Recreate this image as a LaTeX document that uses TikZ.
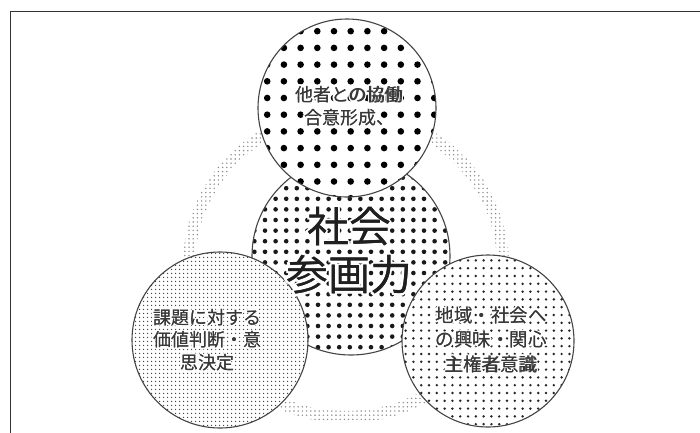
\documentclass[tikz,border=0pt]{standalone}
\usepackage{fontspec}
\setmainfont{Noto Sans CJK JP}
\usetikzlibrary{patterns.meta}
\definecolor{framecol}{HTML}{333333}
\definecolor{edgecol}{HTML}{444444}
\definecolor{txtcol}{HTML}{383838}
\definecolor{ringcol}{HTML}{8A8A8A}
\newcommand\smallsz{\fontsize{18}{22.5}\selectfont}
\newcommand\rightsz{\fontsize{18.5}{24.5}\selectfont}
\newcommand\bigsz{\fontsize{42}{48}\selectfont}
\newcommand\txtT{他者との協働\\合意形成、}
\newcommand\txtC{社会\\参画力}
\newcommand\txtL{課題に対する\\価値判断・意\\思決定}
\newcommand\txtR{地域・社会へ\\の興味・関心\\主権者意識}
\tikzset{
  circedge/.style={draw=edgecol, line width=1.1pt},
  txt/.style={text=txtcol, align=center, inner sep=0pt},
  halo/.style={text=white, align=center, inner sep=0pt},
}
\begin{document}
\begin{tikzpicture}[x=1pt,y=-1pt]
\useasboundingbox (0,0) rectangle (700,432);
\fill[white] (0,0) rectangle (700,432);
% frame (open to the right and bottom)
\coordinate (frTR) at (702,11.5);
\coordinate (frTL) at (10.5,11.5);
\coordinate (frBL) at (10.5,434);
\draw[framecol, line width=1.7pt] (frTR) -- (frTL) -- (frBL);
% centres
\coordinate (ring) at (346,265);
\coordinate (cC) at (351,256);
\coordinate (cT) at (347,108);
\coordinate (cL) at (220,340);
\coordinate (cR) at (488,341);
% background ring of fine dots
\fill[pattern={Dots[distance=4.2pt, radius=0.8pt]}, pattern color=ringcol, even odd rule]
  (ring) ellipse [x radius=163, y radius=158]
  (ring) ellipse [x radius=151, y radius=146];
% centre circle
\fill[white] (cC) circle [radius=99];
\fill[pattern={Dots[distance=10.6pt, radius=2.3pt]}, pattern color=black!90] (cC) circle [radius=99];
\draw[circedge] (cC) circle [radius=99];
% top circle
\fill[white] (cT) circle [radius=89];
\fill[pattern={Dots[distance=16.7pt, radius=3.3pt]}, pattern color=black] (cT) circle [radius=89];
\draw[circedge] (cT) circle [radius=89];
% bottom-left circle
\fill[white] (cL) circle [radius=88];
\fill[pattern={Dots[distance=4pt, radius=0.9pt]}, pattern color=black!72] (cL) circle [radius=88];
\draw[circedge] (cL) circle [radius=88];
% bottom-right circle
\fill[white] (cR) circle [radius=86];
\fill[pattern={Dots[distance=7.8pt, radius=1.35pt]}, pattern color=black!85] (cR) circle [radius=86];
\draw[circedge] (cR) circle [radius=86];
% white halos behind texts
\foreach \dx/\dy [count=\k] in {1.6/0, -1.6/0, 0/1.6, 0/-1.6, 1.1/1.1, -1.1/1.1, 1.1/-1.1, -1.1/-1.1} {
  \node[halo, font=\smallsz] (hT\k) at ([shift={(\dx,\dy)}]349,106) {\txtT};
  \node[halo, font=\smallsz] (hL\k) at ([shift={(\dx,\dy)}]207,340) {\txtL};
  \node[halo, font=\rightsz] (hR\k) at ([shift={(\dx,\dy)}]491,340) {\txtR};
}
\foreach \dx/\dy [count=\k] in {2.4/0, -2.4/0, 0/2.4, 0/-2.4, 1.7/1.7, -1.7/1.7, 1.7/-1.7, -1.7/-1.7} {
  \node[halo, font=\bigsz] (hC\k) at ([shift={(\dx,\dy)}]349,251) {\txtC};
}
% texts (slightly emboldened by a second pass)
\foreach \dx [count=\k] in {0,0.35} {
  \node[txt, font=\smallsz] (tT\k) at ([shift={(\dx,0)}]349,106) {\txtT};
  \node[txt, text=black!88, font=\bigsz] (tC\k) at ([shift={(\dx,0)}]349,251) {\txtC};
  \node[txt, font=\smallsz] (tL\k) at ([shift={(\dx,0)}]207,340) {\txtL};
  \node[txt, font=\rightsz] (tR\k) at ([shift={(\dx,0)}]491,340) {\txtR};
}
\end{tikzpicture}
\end{document}
